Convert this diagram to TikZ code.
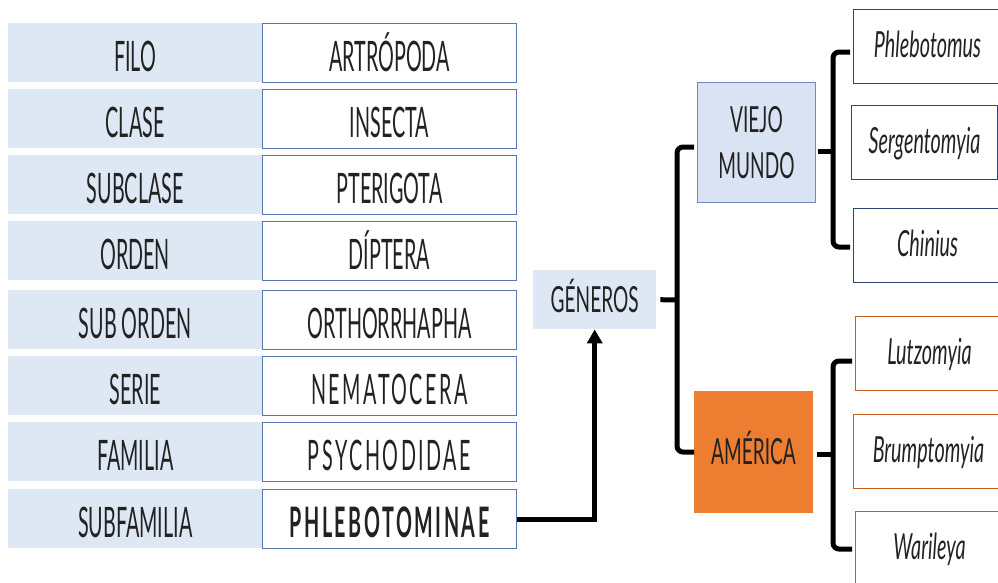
\documentclass[tikz,border=0pt]{standalone}
\usepackage{fontspec}
\setmainfont{Lato}[FakeStretch=0.47]
\newfontfamily\midfont{Lato}[FakeStretch=0.53]
\newfontfamily\genfont{Lato}[FakeStretch=0.55]
\usetikzlibrary{arrows.meta}
\definecolor{lblue}{HTML}{DDE8F4}
\definecolor{vblue}{HTML}{DAE3F3}
\definecolor{bblue}{HTML}{5A78B0}
\definecolor{vborder}{HTML}{7189BE}
\definecolor{dblue}{HTML}{2F4675}
\definecolor{orng}{HTML}{ED7D31}
\definecolor{dorng}{HTML}{C8601E}
\definecolor{txt}{HTML}{222222}
\begin{document}
\begin{tikzpicture}[x=1pt,y=-1pt,
  lab/.style={fill=lblue, minimum width=254, minimum height=59, anchor=north west, inner sep=0, text=txt, text height=37pt, text depth=0pt, font=\fontsize{42}{46}\selectfont},
  val/.style={fill=white, draw=bblue, line width=1, minimum width=254, minimum height=59, anchor=north west, inner sep=0, text=txt, text height=37pt, text depth=0pt, font=\fontsize{42}{46}\selectfont},
  spaced/.style={font=\fontsize{42}{46}\selectfont\addfontfeature{LetterSpace=6}},
  mid/.style={inner sep=0, text=txt, font=\midfont\fontsize{36}{46}\selectfont, align=center},
  gen/.style={fill=white, line width=1, minimum width=148, minimum height=74, anchor=north west, inner sep=0, text=txt, text height=22pt, text depth=0pt, font=\genfont\fontsize{36}{40}\selectfont\itshape},
  brk/.style={line width=5, rounded corners=6, line cap=butt},
  arr/.style={line width=5, -{Triangle[length=14pt,width=15pt]}}
]
\useasboundingbox (0,0) rectangle (998,582);
\clip (0,0) rectangle (998,582);

% taxonomy table
\node[lab] (l1) at (8,23) {FILO};
\node[val] (v1) at (262,23) {ARTRÓPODA};
\node[lab] (l2) at (8,89) {CLASE};
\node[val] (v2) at (262,89) {INSECTA};
\node[lab] (l3) at (8,155) {SUBCLASE};
\node[val] (v3) at (262,155) {PTERIGOTA};
\node[lab] (l4) at (8,221) {ORDEN};
\node[val] (v4) at (262,221) {DÍPTERA};
\node[lab] (l5) at (8,290) {SUB ORDEN};
\node[val] (v5) at (262,290) {ORTHORRHAPHA};
\node[lab] (l6) at (8,356) {SERIE};
\node[val,spaced] (v6) at (262,356) {NEMATOCERA};
\node[lab] (l7) at (8,422) {FAMILIA};
\node[val,spaced] (v7) at (262,422) {PSYCHODIDAE};
\node[lab] (l8) at (8,489) {SUBFAMILIA};
\node[val,font=\fontsize{42}{46}\selectfont\bfseries\addfontfeature{LetterSpace=6}] (v8) at (262,489) {PHLEBOTOMINAE};

% middle boxes
\node[mid, fill=lblue, minimum width=123, minimum height=59, text height=25pt, text depth=0pt, anchor=north west] (gen) at (533,270) {GÉNEROS};
\node[mid, fill=vblue, draw=vborder, line width=1, minimum width=118, minimum height=120, anchor=north west] (viejo) at (697,82) {VIEJO\\MUNDO};
\node[mid, fill=orng, draw=orng, line width=1, minimum width=118, minimum height=121, text height=25pt, text depth=0pt, anchor=north west] (amer) at (694,391) {AMÉRICA};

% genera
\node[gen, draw=dblue] (g1) at (853,9) {Phlebotomus};
\node[gen, draw=dblue, minimum width=146] (g2) at (851,105) {Sergentomyia};
\node[gen, draw=dblue] (g3) at (853,208) {Chinius};
\node[gen, draw=dorng] (g4) at (855,316) {Lutzomyia};
\node[gen, draw=dorng, minimum width=150] (g5) at (853,414) {Brumptomyia};
\node[gen, draw=dorng] (g6) at (855,511) {Warileya};

% arrow from PHLEBOTOMINAE to GENEROS
\draw[arr] (v8.east) -| (gen.south);

% bracket GENEROS
\coordinate (gm) at (677,300);
\coordinate (gt) at (694,147);
\coordinate (gb) at (694,452);
\draw[brk] (gt) -| (gm) |- (gb);
\draw[brk] ([xshift=4pt]gen.east) -- (gm);

% bracket VIEJO MUNDO
\coordinate (vm) at (833,151);
\coordinate (vt) at (850,52);
\coordinate (vb) at (850,247);
\draw[brk] (vt) -| (vm) |- (vb);
\draw[brk] ([xshift=2pt]viejo.east |- vm) -- (vm);

% bracket AMERICA
\coordinate (am) at (833,454);
\coordinate (at) at (852,361);
\coordinate (ab) at (852,549);
\draw[brk] (at) -| (am) |- (ab);
\draw[brk] ([xshift=4pt]amer.east |- am) -- (am);
\end{tikzpicture}
\end{document}
